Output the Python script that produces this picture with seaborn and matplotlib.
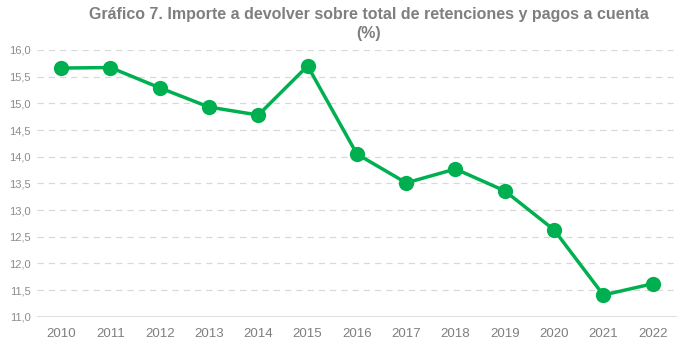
import matplotlib
matplotlib.use("Agg")
import matplotlib.pyplot as plt
import seaborn as sns
import pandas as pd
from matplotlib import font_manager as fm

years = [2010, 2011, 2012, 2013, 2014, 2015, 2016, 2017, 2018, 2019, 2020, 2021, 2022]
values = [15.66, 15.67, 15.29, 14.93, 14.78, 15.70, 14.05, 13.51, 13.77, 13.36, 12.63, 11.41, 11.62]
yticks = [11.0, 11.5, 12.0, 12.5, 13.0, 13.5, 14.0, 14.5, 15.0, 15.5, 16.0]

sns.set_style("white")
names = {f.name for f in fm.fontManager.ttflist}
fam = "Liberation Sans Narrow" if "Liberation Sans Narrow" in names else "Liberation Sans"
plt.rcParams['font.family'] = [fam, 'DejaVu Sans']

df = pd.DataFrame({"year": [str(y) for y in years], "value": values})

fig = plt.figure(figsize=(6.89, 3.49), dpi=100)
ax = fig.add_axes([0.053, 0.092, 0.93, 0.765])
sns.lineplot(data=df, x="year", y="value", ax=ax, color="#00B050", linewidth=2.5,
             marker="o", markersize=11, markeredgewidth=0, sort=False)
ax.set_ylim(11.0, 16.0)
ax.set_xlim(-0.5, len(years) - 0.5)
ax.set_yticks(yticks)
ax.set_yticklabels([f"{v:.1f}".replace(".", ",") for v in yticks])
for v in yticks[1:]:
    ax.axhline(v, color="#d9d9d9", linewidth=0.9, linestyle=(0, (5, 4)), zorder=0)
ax.axhline(11.0, color="#d9d9d9", linewidth=1.2, zorder=0)
for s in ax.spines.values():
    s.set_visible(False)
ax.tick_params(axis="y", length=0, labelsize=8, colors="#8c8c8c", pad=4)
ax.tick_params(axis="x", length=0, labelsize=9.5, colors="#7f7f7f", pad=8)
ax.set_xlabel("")
ax.set_ylabel("")
fig.suptitle("Gráfico 7. Importe a devolver sobre total de retenciones y pagos a cuenta\n(%)",
             x=0.535, y=0.98, fontsize=11.5, fontweight="bold", color="#7f7f7f", linespacing=1.35)
fig.savefig("out.png", dpi=100)
